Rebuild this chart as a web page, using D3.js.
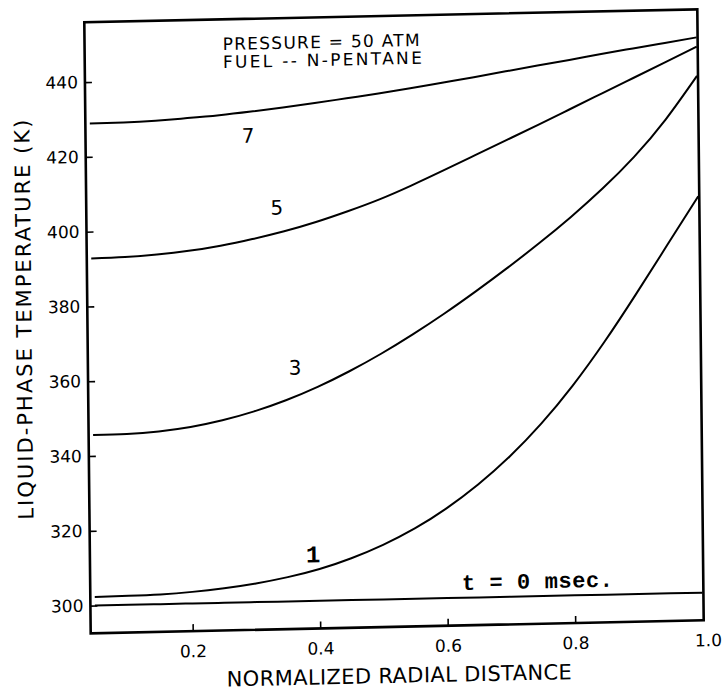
<!DOCTYPE html>
<html>
<head>
<meta charset="utf-8">
<script src="https://cdn.jsdelivr.net/npm/d3@7"></script>
<style>
  html, body { margin: 0; padding: 0; background: #fff; }
  svg { display: block; }
  .axis text { font-family: "DejaVu Sans", sans-serif; font-size: 17px; fill: #000; }
  .axis line { stroke: #000; stroke-width: 1.6; }
  .curve { fill: none; stroke: #000; stroke-width: 2; }
  .frame { fill: none; stroke: #000; stroke-width: 2.6; }
</style>
</head>
<body>
<div id="chart"></div>
<script>

// normalized radial distance where each profile was read
var radius = [ 0.047, 0.1, 0.15, 0.2, 0.25, 0.3, 0.35, 0.4, 0.45, 0.5,
               0.55, 0.6, 0.65, 0.7, 0.75, 0.8, 0.85, 0.9, 0.95, 1.0 ];

// liquid-phase temperature (K) at t = 0, 1, 3, 5, 7 msec
var temp0 = [ 300, 300, 300, 300, 300, 300, 300, 300, 300, 300,
              300, 300, 300, 300, 300, 300, 300, 300, 300, 300 ];
var temp1 = [ 302.3, 302.4, 302.6, 303.1, 303.9, 305.0, 306.5, 308.5, 311.2, 314.6,
              318.8, 324.0, 330.2, 337.5, 346.1, 356.1, 367.5, 380.0, 393.0, 406.0 ];
var temp3 = [ 345.6, 345.7, 346.2, 347.2, 348.8, 351.0, 353.8, 357.2, 361.2, 365.7,
              370.7, 376.1, 381.9, 388.0, 394.4, 401.2, 408.6, 416.9, 426.7, 438.2 ];
var temp5 = [ 392.8, 393.0, 393.5, 394.3, 395.5, 397.1, 399.0, 401.3, 404.0, 407.0,
              410.5, 414.3, 418.2, 422.1, 426.0, 430.0, 434.0, 438.0, 442.0, 446.0 ];
var temp7 = [ 428.9, 429.0, 429.3, 429.8, 430.4, 431.2, 432.1, 433.1, 434.2, 435.3,
              436.5, 437.8, 439.1, 440.5, 441.9, 443.2, 444.6, 445.9, 447.2, 448.5 ];

var xTicks = [ 0.2, 0.4, 0.6, 0.8, 1.0 ];
var yTicks = [ 300, 320, 340, 360, 380, 400, 420, 440 ];
var notes = [ "PRESSURE = 50 ATM", "FUEL -- N-PENTANE" ];

var width = 725;
var height = 692;
var plotWidth = 613;
var plotHeight = 611;

var svg = d3.select( "#chart" ).append( "svg" )
  .attr( "width", width )
  .attr( "height", height );

svg.append( "rect" ).attr( "width", width ).attr( "height", height ).attr( "fill", "#fff" );

// the scanned figure is slightly skewed, so the whole plot sits in a skewed frame
var plot = svg.append( "g" )
  .attr( "transform", "matrix(1 -0.0212 0.01047 1 84.3 22.3)" );

var x = d3.scaleLinear().domain( [ 0.04, 1.0 ] ).range( [ 0, 612 ] );
var y = d3.scaleLinear().domain( [ 292.6, 456 ] ).range( [ plotHeight, 0 ] );

var xAxis = d3.axisBottom( x )
  .tickValues( xTicks )
  .tickFormat( d3.format( ".1f" ) )
  .tickSizeInner( -7 )
  .tickSizeOuter( 0 )
  .tickPadding( 14 );

var yAxis = d3.axisLeft( y )
  .tickValues( yTicks )
  .tickFormat( d3.format( "d" ) )
  .tickSizeInner( -7 )
  .tickSizeOuter( 0 )
  .tickPadding( 7 );

var gx = plot.append( "g" )
  .attr( "class", "axis" )
  .attr( "transform", "translate(0," + plotHeight + ")" )
  .call( xAxis );
gx.select( ".domain" ).remove();
gx.selectAll( ".tick" ).filter( function( d ) { return d === 1; } ).select( "line" ).remove();
gx.selectAll( ".tick" ).filter( function( d ) { return d === 1; } ).select( "text" ).attr( "dx", 5 );

var gy = plot.append( "g" )
  .attr( "class", "axis" )
  .call( yAxis );
gy.select( ".domain" ).remove();

plot.append( "rect" )
  .attr( "class", "frame" )
  .attr( "width", plotWidth )
  .attr( "height", plotHeight );

var line = d3.line()
  .x( function( d ) { return x( d[ 0 ] ); } )
  .y( function( d ) { return y( d[ 1 ] ); } )
  .curve( d3.curveNatural );

[ temp0, temp1, temp3, temp5, temp7 ].forEach( function( series ) {
  plot.append( "path" )
    .attr( "class", "curve" )
    .attr( "d", line( d3.zip( radius, series ) ) );
} );

// curve labels, placed in data units
function label( text, rx, ty, font, size, anchor, length, weight ) {
  var t = plot.append( "text" )
    .attr( "x", x( rx ) )
    .attr( "y", y( ty ) )
    .attr( "text-anchor", anchor )
    .attr( "font-family", font )
    .attr( "font-size", size )
    .attr( "font-weight", weight || "normal" )
    .attr( "fill", "#000" )
    .text( text );
  if( length ) {
    t.attr( "textLength", length ).attr( "lengthAdjust", "spacing" );
  }
  return t;
}

label( "7", 0.295, 422.9, "DejaVu Sans", 20, "middle" );
label( "5", 0.339, 403.5, "DejaVu Sans", 20, "middle" );
label( "3", 0.365, 360.6, "DejaVu Sans", 20, "middle" );
label( "1", 0.390, 310.3, "Liberation Mono", 24, "middle", null, "bold" );
label( "t = 0 msec.", 0.623, 302.1, "Liberation Mono", 22, "start", 151, "bold" );

label( notes[ 0 ], 0.2566, 447.8, "DejaVu Sans", 17, "start", 197 );
label( notes[ 1 ], 0.2566, 443.0, "DejaVu Sans", 17, "start", 199 );

// axis titles
plot.append( "text" )
  .attr( "x", 308 )
  .attr( "y", 667 )
  .attr( "text-anchor", "middle" )
  .attr( "font-family", "DejaVu Sans" )
  .attr( "font-size", 21 )
  .attr( "textLength", 345 )
  .attr( "lengthAdjust", "spacing" )
  .text( "NORMALIZED RADIAL DISTANCE" );

plot.append( "text" )
  .attr( "transform", "translate(-56,296) rotate(-90)" )
  .attr( "text-anchor", "middle" )
  .attr( "font-family", "DejaVu Sans" )
  .attr( "font-size", 21 )
  .attr( "textLength", 400 )
  .attr( "lengthAdjust", "spacing" )
  .text( "LIQUID-PHASE TEMPERATURE (K)" );

</script>
</body>
</html>
